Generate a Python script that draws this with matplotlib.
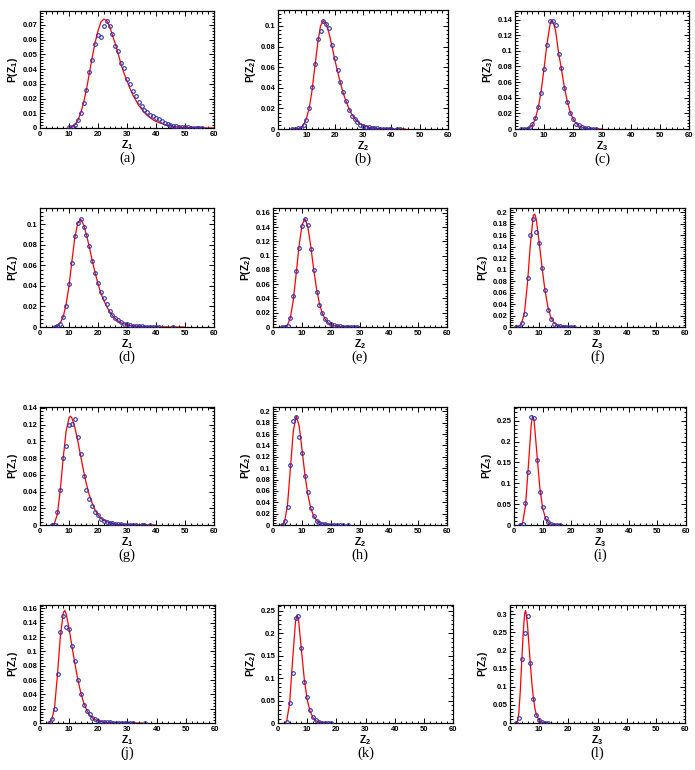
import matplotlib

matplotlib.use("Agg")
import matplotlib.pyplot as plt
from matplotlib.ticker import AutoMinorLocator, FormatStrFormatter, MultipleLocator

W, H = 695, 770

a_z = list(range(10, 57))
a_p = [0.0005, 0.001, 0.002, 0.0052, 0.0105, 0.017, 0.026, 0.038, 0.046, 0.057,
       0.063, 0.062, 0.0695, 0.0725, 0.069, 0.064, 0.056, 0.0525, 0.0445, 0.041,
       0.0335, 0.030, 0.025, 0.0215, 0.0175, 0.015, 0.0125, 0.011, 0.009, 0.008,
       0.007, 0.006, 0.0045, 0.0035, 0.003, 0.002, 0.0015, 0.0012, 0.001, 0.0007,
       0.0005, 0.0004, 0.0003, 0.0003, 0.0002, 0.0001, 0.0001]
a_fz = [10, 11, 12, 13, 14, 15, 16, 17, 18, 19, 20, 21, 22, 23, 24, 25, 26, 27, 28, 29,
        30, 31, 32, 33, 34, 35, 36, 37, 38, 39, 40, 42, 44, 46, 48, 50, 55, 60]
a_fp = [0.0, 0.0005, 0.002, 0.005, 0.010, 0.017, 0.026, 0.037, 0.048, 0.058, 0.066,
        0.072, 0.074, 0.073, 0.069, 0.063, 0.057, 0.050, 0.043, 0.037, 0.032, 0.027,
        0.0225, 0.019, 0.0155, 0.013, 0.0105, 0.0085, 0.007, 0.0055, 0.0045, 0.003,
        0.0018, 0.001, 0.0006, 0.0003, 0.0001, 0.0]

b_z = list(range(5, 41)) + [42, 43]
b_p = [0.0, 0.0, 0.0005, 0.001, 0.004, 0.009, 0.020, 0.041, 0.063, 0.087, 0.095,
       0.105, 0.102, 0.098, 0.082, 0.069, 0.057, 0.046, 0.036, 0.0275, 0.018, 0.0125,
       0.010, 0.0065, 0.004, 0.003, 0.002, 0.0015, 0.001, 0.001, 0.0005, 0.0004,
       0.0003, 0.0002, 0.0002, 0.0001, 0.0001, 0.0001]
b_fz = [5, 7, 8, 9, 10, 11, 12, 13, 14, 15, 16, 17, 18, 19, 20, 21, 22, 23, 24, 25,
        26, 27, 28, 29, 30, 32, 34, 36, 40, 45]
b_fp = [0.0, 0.0003, 0.001, 0.004, 0.010, 0.020, 0.037, 0.060, 0.083, 0.100, 0.105,
        0.102, 0.093, 0.081, 0.068, 0.056, 0.045, 0.035, 0.027, 0.020, 0.0145, 0.0105,
        0.0075, 0.005, 0.0035, 0.0015, 0.0007, 0.0003, 0.0001, 0.0]

c_z = list(range(2, 29))
c_p = [0.0, 0.0, 0.0003, 0.002, 0.006, 0.0135, 0.028, 0.046, 0.077, 0.107, 0.138,
       0.138, 0.133, 0.096, 0.078, 0.053, 0.034, 0.021, 0.013, 0.007, 0.0045, 0.0025,
       0.0015, 0.001, 0.0005, 0.0003, 0.0002]
c_fz = [3, 4, 5, 6, 7, 8, 9, 10, 11, 12, 12.5, 13, 14, 15, 16, 17, 18, 19, 20, 21, 22,
        23, 24, 26, 28, 30]
c_fp = [0.0, 0.0005, 0.0015, 0.005, 0.013, 0.027, 0.048, 0.077, 0.108, 0.132, 0.139,
        0.138, 0.126, 0.098, 0.077, 0.054, 0.036, 0.022, 0.013, 0.0075, 0.0042,
        0.0023, 0.0012, 0.0003, 0.0001, 0.0]

d_z = list(range(5, 42)) + [46]
d_p = [0.0, 0.0005, 0.003, 0.010, 0.020, 0.042, 0.0625, 0.089, 0.101, 0.105, 0.097,
       0.0895, 0.079, 0.064, 0.053, 0.043, 0.034, 0.028, 0.022, 0.016, 0.0115, 0.009,
       0.0065, 0.0045, 0.003, 0.0025, 0.0015, 0.001, 0.0008, 0.0006, 0.0005, 0.0004,
       0.0003, 0.0002, 0.0002, 0.0001, 0.0001, 0.0001]
d_fz = [5, 6, 7, 8, 9, 10, 11, 12, 13, 14, 15, 16, 17, 18, 19, 20, 21, 22, 23, 24, 25,
        26, 27, 28, 30, 32, 35, 40, 45, 50]
d_fp = [0.0, 0.001, 0.004, 0.010, 0.022, 0.040, 0.064, 0.087, 0.101, 0.105, 0.100,
        0.090, 0.078, 0.065, 0.053, 0.042, 0.033, 0.026, 0.020, 0.015, 0.011, 0.008,
        0.0058, 0.004, 0.002, 0.001, 0.0003, 0.0001, 0.0, 0.0]

e_z = list(range(3, 30))
e_p = [0.0, 0.0, 0.001, 0.013, 0.043, 0.078, 0.111, 0.142, 0.151, 0.143, 0.110,
       0.080, 0.049, 0.031, 0.019, 0.011, 0.007, 0.0045, 0.003, 0.002, 0.001, 0.0005,
       0.0004, 0.0003, 0.0002, 0.0001, 0.0001]
e_fz = [3, 4, 5, 6, 7, 8, 9, 10, 11, 12, 13, 14, 15, 16, 17, 18, 19, 20, 22, 25, 30]
e_fp = [0.0, 0.0005, 0.003, 0.013, 0.038, 0.075, 0.114, 0.143, 0.152, 0.141, 0.114,
        0.082, 0.054, 0.033, 0.019, 0.011, 0.006, 0.003, 0.001, 0.0002, 0.0]

f_z = list(range(2, 23))
f_p = [0.0, 0.0, 0.007, 0.023, 0.085, 0.161, 0.188, 0.166, 0.147, 0.103, 0.065,
       0.030, 0.014, 0.005, 0.002, 0.001, 0.0005, 0.0003, 0.0002, 0.0001, 0.0]
f_fz = [2, 3, 4, 5, 6, 7, 8, 8.5, 9, 10, 11, 12, 13, 14, 15, 16, 17, 19, 22]
f_fp = [0.0, 0.001, 0.006, 0.027, 0.077, 0.145, 0.195, 0.197, 0.188, 0.148, 0.103,
        0.064, 0.035, 0.017, 0.008, 0.0035, 0.0015, 0.0003, 0.0]

g_z = list(range(4, 34)) + [35, 36, 38]
g_p = [0.0, 0.0005, 0.016, 0.042, 0.080, 0.094, 0.120, 0.121, 0.127, 0.105, 0.085,
       0.059, 0.042, 0.031, 0.023, 0.016, 0.012, 0.0075, 0.005, 0.0035, 0.0025, 0.002,
       0.0015, 0.001, 0.0008, 0.0005, 0.0004, 0.0003, 0.0002, 0.0002, 0.0001, 0.0001,
       0.0001]
g_fz = [4, 5, 6, 7, 8, 9, 10, 10.5, 11, 12, 13, 14, 15, 16, 17, 18, 19, 20, 21, 22,
        24, 26, 28, 32, 40]
g_fp = [0.0, 0.002, 0.013, 0.042, 0.080, 0.112, 0.128, 0.130, 0.128, 0.117, 0.101,
        0.083, 0.065, 0.049, 0.036, 0.026, 0.018, 0.012, 0.008, 0.0055, 0.0025, 0.001,
        0.0004, 0.0001, 0.0]

h_z = list(range(3, 25)) + [26]
h_p = [0.0, 0.007, 0.031, 0.105, 0.183, 0.190, 0.154, 0.127, 0.087, 0.058, 0.030,
       0.015, 0.007, 0.004, 0.002, 0.001, 0.0005, 0.0003, 0.0002, 0.0001, 0.0001,
       0.0, 0.0]
h_fz = [3, 4, 5, 6, 7, 8, 9, 10, 11, 12, 13, 14, 15, 16, 17, 19, 22]
h_fp = [0.0, 0.006, 0.035, 0.100, 0.165, 0.192, 0.175, 0.133, 0.089, 0.054, 0.030,
        0.016, 0.008, 0.004, 0.002, 0.0004, 0.0]

i_z = list(range(2, 17))
i_p = [0.0, 0.003, 0.052, 0.126, 0.258, 0.256, 0.155, 0.079, 0.043, 0.017, 0.007,
       0.003, 0.001, 0.0005, 0.0]
i_fz = [2, 3, 4, 5, 6, 6.5, 7, 8, 9, 10, 11, 12, 13, 15, 17]
i_fp = [0.0, 0.005, 0.045, 0.140, 0.240, 0.262, 0.252, 0.170, 0.090, 0.040, 0.016,
        0.006, 0.002, 0.0002, 0.0]

j_z = list(range(3, 33)) + [36]
j_p = [0.0, 0.005, 0.019, 0.069, 0.127, 0.149, 0.134, 0.131, 0.108, 0.087, 0.060,
       0.041, 0.025, 0.017, 0.012, 0.007, 0.005, 0.003, 0.002, 0.0015, 0.001, 0.0008,
       0.0006, 0.0005, 0.0004, 0.0003, 0.0002, 0.0002, 0.0001, 0.0001, 0.0001]
j_fz = [3, 4, 5, 6, 7, 8, 8.5, 9, 10, 11, 12, 13, 14, 15, 16, 17, 18, 19, 20, 22, 25,
        30, 35]
j_fp = [0.0, 0.004, 0.022, 0.068, 0.122, 0.154, 0.157, 0.152, 0.131, 0.106, 0.082,
        0.060, 0.042, 0.028, 0.018, 0.011, 0.007, 0.0045, 0.0028, 0.001, 0.0002, 0.0,
        0.0]

k_z = list(range(3, 19))
k_p = [0.002, 0.045, 0.112, 0.234, 0.239, 0.166, 0.091, 0.057, 0.030, 0.014, 0.006,
       0.002, 0.001, 0.0005, 0.0002, 0.0]
k_fz = [2.5, 3, 4, 5, 6, 6.5, 7, 8, 9, 10, 11, 12, 13, 14, 16, 18]
k_fp = [0.0, 0.005, 0.045, 0.140, 0.225, 0.240, 0.232, 0.165, 0.098, 0.052, 0.026,
        0.012, 0.005, 0.002, 0.0003, 0.0]

l_z = list(range(2, 14))
l_p = [0.0, 0.015, 0.177, 0.249, 0.296, 0.166, 0.065, 0.021, 0.008, 0.003, 0.001,
       0.0003]
l_fz = [2, 2.5, 3, 3.5, 4, 4.5, 5, 5.3, 5.5, 6, 6.5, 7, 7.5, 8, 8.5, 9, 10, 11, 12, 13]
l_fp = [0.0, 0.003, 0.025, 0.085, 0.165, 0.245, 0.300, 0.310, 0.305, 0.270, 0.215,
        0.160, 0.110, 0.070, 0.042, 0.024, 0.007, 0.002, 0.0005, 0.0]

# panel: (letter, points, fit, variable index, y max, y tick step, box px l, r, t, b)
PANELS = [
    ("a", a_z, a_p, a_fz, a_fp, 1, 0.0795, 0.01, (40, 214, 11, 128)),
    ("b", b_z, b_p, b_fz, b_fp, 2, 0.1155, 0.02, (278, 448, 10, 129)),
    ("c", c_z, c_p, c_fz, c_fp, 3, 0.151, 0.02, (515, 689, 11, 129)),
    ("d", d_z, d_p, d_fz, d_fp, 1, 0.116, 0.02, (40, 214, 208, 327)),
    ("e", e_z, e_p, e_fz, e_fp, 2, 0.167, 0.02, (273, 447, 208, 327)),
    ("f", f_z, f_p, f_fz, f_fp, 3, 0.2076, 0.02, (510, 685, 208, 327)),
    ("g", g_z, g_p, g_fz, g_fp, 1, 0.141, 0.02, (40, 214, 407, 525)),
    ("h", h_z, h_p, h_fz, h_fp, 2, 0.2076, 0.02, (273, 447, 407, 525)),
    ("i", i_z, i_p, i_fz, i_fp, 3, 0.283, 0.05, (514, 686, 407, 525)),
    ("j", j_z, j_p, j_fz, j_fp, 1, 0.1647, 0.02, (40, 215, 605, 723)),
    ("k", k_z, k_p, k_fz, k_fp, 2, 0.2626, 0.05, (278, 453, 605, 723)),
    ("l", l_z, l_p, l_fz, l_fp, 3, 0.3257, 0.05, (510, 685, 605, 723)),
]

plt.rcParams["font.family"] = ["Liberation Sans", "DejaVu Sans"]
plt.rcParams["mathtext.fontset"] = "custom"
plt.rcParams["mathtext.rm"] = "Liberation Sans:bold"
plt.rcParams["mathtext.bf"] = "Liberation Sans:bold"
plt.rcParams["mathtext.it"] = "Liberation Sans:bold"

fig = plt.figure(figsize=(W / 100, H / 100), dpi=100)

for letter, z, p, fz, fp, var, ymax, ystep, (l, r, t, b) in PANELS:
    ax = fig.add_axes([l / W, 1 - b / H, (r - l) / W, (b - t) / H])
    ax.plot(fz, fp, color="red", lw=0.9, zorder=2)
    ax.plot(z, p, "o", ms=2.6, mfc="none", mec="#3030a8", mew=0.8, zorder=3)
    ax.set_xlim(0, 60)
    ax.set_ylim(0, ymax)
    ax.xaxis.set_major_locator(MultipleLocator(10))
    ax.xaxis.set_minor_locator(AutoMinorLocator(5))
    ax.yaxis.set_major_locator(MultipleLocator(ystep))
    ax.yaxis.set_minor_locator(AutoMinorLocator(5))
    ax.yaxis.set_major_formatter(FormatStrFormatter("%g"))
    ax.tick_params(which="both", direction="in", top=True, right=True,
                   labelsize=5.5, pad=2, width=0.7)
    ax.tick_params(which="major", length=3.5)
    ax.tick_params(which="minor", length=1.8)
    for lab in ax.get_xticklabels() + ax.get_yticklabels():
        lab.set_fontweight("bold")
    for s in ax.spines.values():
        s.set_linewidth(0.9)
    ax.set_xlabel(rf"$\mathbf{{Z_{var}}}$", fontsize=7.5, labelpad=0)
    ax.set_ylabel(rf"$\mathbf{{P(Z_{var})}}$", fontsize=7.5, labelpad=2)
    fig.text((l + r) / 2 / W, 1 - (b + 30) / H, f"({letter})", ha="center",
             va="center", fontsize=10.5, family=["Liberation Serif"])

fig.savefig("out.png", dpi=100)
